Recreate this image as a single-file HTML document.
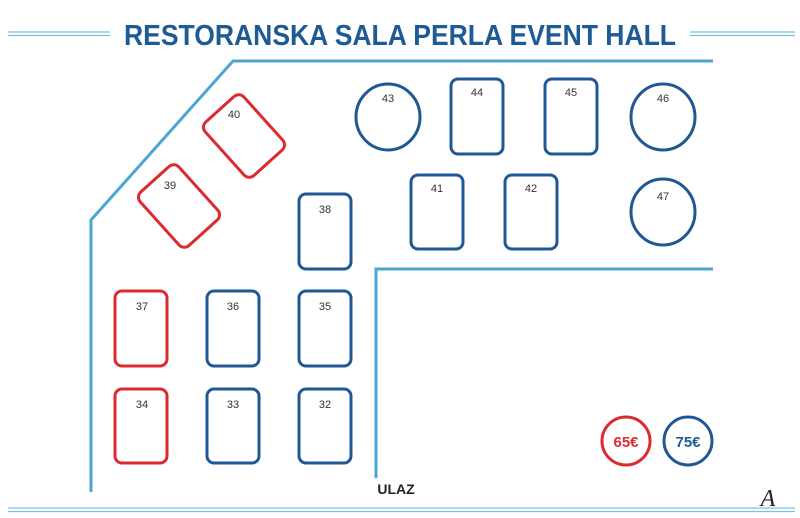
<!DOCTYPE html>
<html><head><meta charset="utf-8"><style>html,body{margin:0;padding:0;background:#fff}svg{display:block}</style></head>
<body>
<svg width="800" height="518" viewBox="0 0 800 518" xmlns="http://www.w3.org/2000/svg" font-family="Liberation Sans, sans-serif">
<g stroke="#7cc0dd" stroke-width="1.3" fill="none">
<line x1="8" y1="32" x2="110" y2="32"/><line x1="8" y1="35.5" x2="110" y2="35.5"/>
<line x1="690" y1="32" x2="795" y2="32"/><line x1="690" y1="35.5" x2="795" y2="35.5"/>
<line x1="8" y1="508" x2="795" y2="508"/><line x1="8" y1="511.5" x2="795" y2="511.5"/>
</g>
<text x="400" y="45" text-anchor="middle" font-size="29" font-weight="bold" fill="#1d5a96" textLength="552" lengthAdjust="spacingAndGlyphs">RESTORANSKA SALA PERLA EVENT HALL</text>
<g stroke="#4ca6d3" stroke-width="3" fill="none">
<polyline points="713,61 233,61 91,220 91,492"/>
<polyline points="713,269 376,269 376,478"/>
</g>
<g fill="none" stroke-width="3" stroke="#1f5895">
<rect x="207" y="291" width="52" height="75" rx="7"/>
<rect x="299" y="291" width="52" height="75" rx="7"/>
<rect x="207" y="389" width="52" height="74" rx="7"/>
<rect x="299" y="389" width="52" height="74" rx="7"/>
<rect x="299" y="194" width="52" height="75" rx="7"/>
<rect x="411" y="175" width="52" height="74" rx="7"/>
<rect x="505" y="175" width="52" height="74" rx="7"/>
<rect x="451" y="79" width="52" height="75" rx="7"/>
<rect x="545" y="79" width="52" height="75" rx="7"/>
<ellipse cx="388" cy="117" rx="32" ry="33"/>
<ellipse cx="663" cy="117" rx="32" ry="33"/>
<ellipse cx="663" cy="212" rx="32" ry="33"/>
<circle cx="688" cy="441" r="24"/>
</g>
<g fill="none" stroke-width="3" stroke="#dc2a2f">
<rect x="115" y="291" width="52" height="75" rx="7"/>
<rect x="115" y="389" width="52" height="74" rx="7"/>
<rect x="218" y="100" width="52" height="72" rx="7" transform="rotate(-42 244 136)"/>
<rect x="153" y="170" width="52" height="72" rx="7" transform="rotate(-42 179 206)"/>
<circle cx="626" cy="441" r="24"/>
</g>
<g font-size="11" fill="#333" text-anchor="middle">
<text x="142" y="310">37</text><text x="233" y="310">36</text><text x="325" y="310">35</text>
<text x="142" y="408">34</text><text x="233" y="408">33</text><text x="325" y="408">32</text>
<text x="325" y="213">38</text><text x="437" y="192">41</text><text x="531" y="192">42</text>
<text x="477" y="96">44</text><text x="571" y="96">45</text>
<text x="388" y="102">43</text><text x="663" y="102">46</text><text x="663" y="200">47</text>
<text x="234" y="118">40</text><text x="170" y="189">39</text>
</g>
<text x="626" y="447" text-anchor="middle" font-size="15" font-weight="bold" fill="#dc2a2f">65€</text>
<text x="688" y="447" text-anchor="middle" font-size="15" font-weight="bold" fill="#1f5895">75€</text>
<text x="396" y="494" text-anchor="middle" font-size="14" font-weight="bold" fill="#222">ULAZ</text>
<text x="768" y="506" text-anchor="middle" font-size="24" font-style="italic" font-family="Liberation Serif, serif" fill="#222">A</text>
</svg>
</body></html>
